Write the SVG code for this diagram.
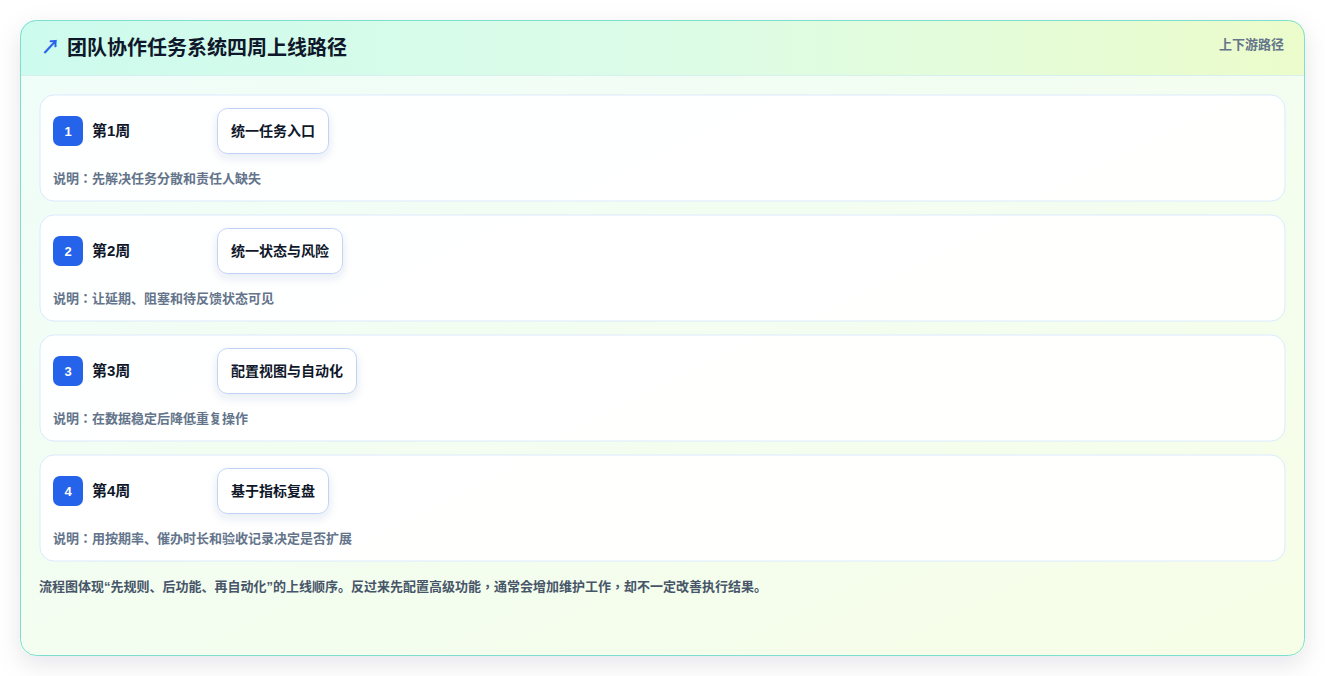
<svg xmlns="http://www.w3.org/2000/svg" width="1325" height="676" viewBox="0 0 1325 676">
  <defs>
    <linearGradient id="bodyGrad" x1="0" y1="0" x2="1" y2="1">
      <stop offset="0" stop-color="#effdfa"/>
      <stop offset="1" stop-color="#f7fee7"/>
    </linearGradient>
    <linearGradient id="headGrad" x1="0" y1="0" x2="1" y2="0">
      <stop offset="0" stop-color="#cdfbee"/>
      <stop offset="0.5" stop-color="#dcfce7"/>
      <stop offset="1" stop-color="#ecfccb"/>
    </linearGradient>
    <clipPath id="cardClip">
      <rect x="20" y="20" width="1285" height="636" rx="16"/>
    </clipPath>
    <filter id="cardShadow" x="-10%" y="-10%" width="120%" height="130%">
      <feDropShadow dx="0" dy="8" stdDeviation="12" flood-color="#0f172a" flood-opacity="0.10"/>
    </filter>
    <filter id="nodeShadow" x="-30%" y="-30%" width="160%" height="180%">
      <feDropShadow dx="0" dy="4" stdDeviation="5" flood-color="#1e3a8a" flood-opacity="0.10"/>
    </filter>
  </defs>
  <style>
    text { font-family: "Liberation Sans", "Noto Sans CJK SC", sans-serif; font-weight: bold; }
    .row { fill: #ffffff; fill-opacity: 0.92; stroke: #dbeafe; stroke-width: 1; }
    .badge { fill: #2563eb; }
    .badgeText { fill: #ffffff; font-size: 13px; text-anchor: middle; }
    .week { fill: #0f172a; font-size: 15px; }
    .node { fill: #ffffff; stroke: #bfd3f5; stroke-width: 1; }
    .nodeText { fill: #0f172a; font-size: 14px; text-anchor: middle; }
    .desc { fill: #64748b; font-size: 13px; font-family: "Liberation Sans", "Noto Sans CJK JP", sans-serif; }
    .foot { fill: #475569; font-size: 13px; font-family: "Liberation Sans", "Noto Sans CJK JP", sans-serif; }
    .tc { font-family: "Noto Sans CJK TC", sans-serif; }
  </style>

  <rect width="1325" height="676" fill="#ffffff"/>

  <g id="card">
    <rect x="20" y="20" width="1285" height="636" rx="16" fill="url(#bodyGrad)" filter="url(#cardShadow)"/>
    <g clip-path="url(#cardClip)">
      <rect x="20" y="20" width="1285" height="55" fill="url(#headGrad)"/>
      <line x1="20" y1="75.5" x2="1305" y2="75.5" stroke="#d5f0ee" stroke-width="1"/>
    </g>
    <rect x="20.5" y="20.5" width="1284" height="635" rx="16" fill="none" stroke="#7ddfcf" stroke-width="1"/>
    <text x="41" y="54" font-size="19" fill="#2563eb">↗</text>
    <text x="67" y="55" font-size="20" fill="#0f172a">团队协作任务系统四周上线路径</text>
    <text x="1284" y="49" font-size="13" fill="#64748b" text-anchor="end">上下游路径</text>
  </g>

  <g id="connectors"></g>

  <g id="week1">
    <rect class="row" x="40" y="95" width="1245" height="106" rx="14"/>
    <rect class="badge" x="53" y="116" width="30" height="30" rx="7"/>
    <text class="badgeText" x="68" y="136">1</text>
    <text class="week" x="92" y="136">第1周</text>
    <rect class="node" x="217.5" y="108.5" width="111" height="45" rx="10" filter="url(#nodeShadow)"/>
    <text class="nodeText" x="273" y="136">统一任务入口</text>
    <text class="desc" x="53" y="183">说明：先解决任务分散和责任人缺失</text>
  </g>

  <g id="week2">
    <rect class="row" x="40" y="215" width="1245" height="106" rx="14"/>
    <rect class="badge" x="53" y="236" width="30" height="30" rx="7"/>
    <text class="badgeText" x="68" y="256">2</text>
    <text class="week" x="92" y="256">第2周</text>
    <rect class="node" x="217.5" y="228.5" width="125" height="45" rx="10" filter="url(#nodeShadow)"/>
    <text class="nodeText" x="280" y="256">统一状态与风险</text>
    <text class="desc" x="53" y="303">说明：让延期、阻塞和待反馈状态可见</text>
  </g>

  <g id="week3">
    <rect class="row" x="40" y="335" width="1245" height="106" rx="14"/>
    <rect class="badge" x="53" y="356" width="30" height="30" rx="7"/>
    <text class="badgeText" x="68" y="376">3</text>
    <text class="week" x="92" y="376">第3周</text>
    <rect class="node" x="217.5" y="348.5" width="139" height="45" rx="10" filter="url(#nodeShadow)"/>
    <text class="nodeText" x="287" y="376">配置视图与自动化</text>
    <text class="desc" x="53" y="423">说明：在数据稳定后降低重复操作</text>
  </g>

  <g id="week4">
    <rect class="row" x="40" y="455" width="1245" height="106" rx="14"/>
    <rect class="badge" x="53" y="476" width="30" height="30" rx="7"/>
    <text class="badgeText" x="68" y="496">4</text>
    <text class="week" x="92" y="496">第4周</text>
    <rect class="node" x="217.5" y="468.5" width="111" height="45" rx="10" filter="url(#nodeShadow)"/>
    <text class="nodeText" x="273" y="496">基于指标复盘</text>
    <text class="desc" x="53" y="543">说明：用按期率、催办时长和验收记录决定是否扩展</text>
  </g>

  <text id="footer" class="foot" x="39" y="591">流程图体现“先规则、后功能、再自动化”的上线顺序。反过来先配置高级功能<tspan class="tc">，</tspan>通常会增加维护工作<tspan class="tc">，</tspan>却不一定改善执行结果。</text>
</svg>
